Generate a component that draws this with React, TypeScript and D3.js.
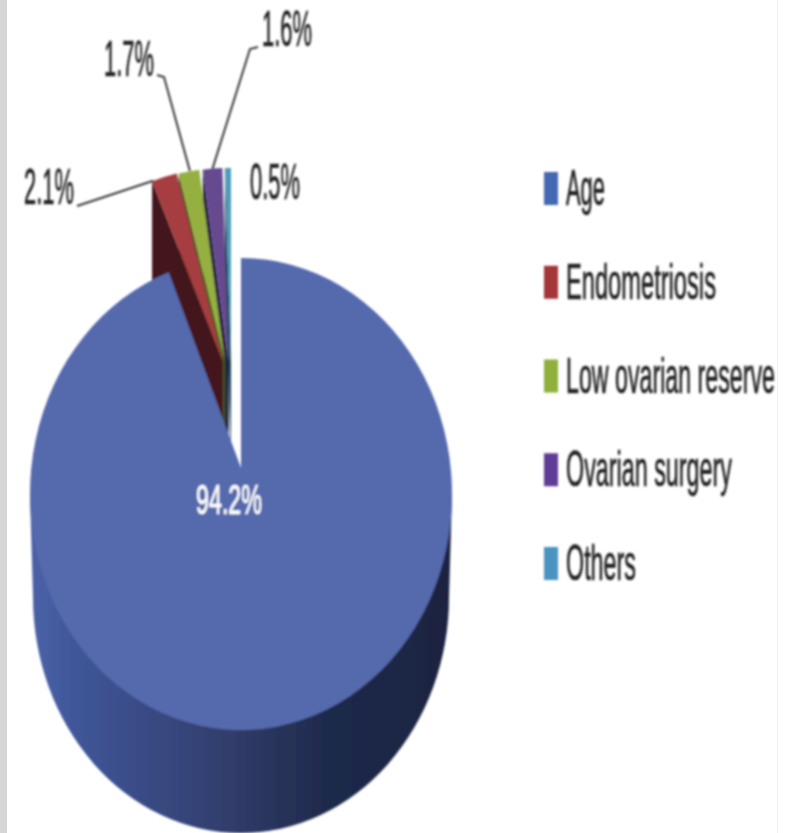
import * as d3 from "d3";

// ---- data ----
const CATEGORIES = ["Age", "Endometriosis", "Low ovarian reserve", "Ovarian surgery", "Others"];
const VALUES = [94.2, 2.1, 1.7, 1.6, 0.5];
const FACE_COLORS = ["#5569ad", "#a63c3f", "#95b03f", "#66488f", "#4f9cb9"];
const WALL_COLORS = ["#2f3b68", "#43161b", "#41571c", "#211a40", "#1d4658"];
const LEGEND_COLORS = ["#4468b2", "#a43538", "#8fb03a", "#5f3d97", "#4b93c0"];
const LEGEND_WIDTHS = [39, 150, 209, 166, 70];

const WIDTH = 792;
const HEIGHT = 833;
const FONT_FAMILY = "'Liberation Sans Narrow', 'Liberation Sans', sans-serif";

// main disc
const MAIN = { cx: 241, cy: 494, rx: 211, ry: 236, apexY: 468 };
const BASE = { cy: 597, rx: 208, ry: 236 };
// perspective pushes the cut edge a little past the plain pie angle
const END_NUDGE = (1.2 * Math.PI) / 180;
// the exploded small slices sit on their own, flatter centres
const EXPLODED_CX = [223, 225, 228.5, 231];
const EXPLODED = { cy: 362, rx: 196, ry: 194, depth: 100 };

type Ell = { cx: number; cy: number; rx: number; ry: number };

const pt = (e: Ell, a: number): [number, number] => [
  e.cx + Math.sin(a) * e.rx,
  e.cy - Math.cos(a) * e.ry,
];

const pie = d3
  .pie<number>()
  .sort(null)
  .startAngle(0)
  .endAngle(Math.PI * 2);

const slices = pie(VALUES);
const explodedEll = (i: number): Ell => ({ ...EXPLODED, cx: EXPLODED_CX[i] });

function faceAt(e: Ell, a0: number, a1: number) {
  const [x0, y0] = pt(e, a0);
  const [x1, y1] = pt(e, a1);
  return `M${e.cx},${e.cy}L${x0},${y0}A${e.rx},${e.ry} 0 0 1 ${x1},${y1}Z`;
}

// label placement per slice: text box, baseline and leader elbow
const LABELS = ["94.2%", "2.1%", "1.7%", "1.6%", "0.5%"];
const LABEL_POS = [
  { x: 196, y: 514, w: 66 },
  { x: 24, y: 204, w: 50 },
  { x: 104, y: 76, w: 50 },
  { x: 262, y: 46, w: 50 },
  { x: 250, y: 199, w: 50 },
];
const LEADERS: ([number, number][] | null)[] = [
  null,
  [[77, 206]],
  [[157, 75], [164, 77]],
  [[258, 47], [250, 49]],
  null,
];
const LEADER_ANGLE = [0, 0.05, 0.55, 0.5, 0];

// squeeze text horizontally to the width it has in the picture
const ctx = document.createElement("canvas").getContext("2d")!;
function squeeze(text: string, size: number, width: number) {
  ctx.font = `${size}px ${FONT_FAMILY}`;
  return width / ctx.measureText(text).width;
}

export default function App() {
  const blue = slices[0];
  const [bx0, by0] = pt(MAIN, blue.startAngle);
  const [bx1, by1] = pt(MAIN, blue.endAngle + END_NUDGE);

  const legendY = d3
    .scalePoint<string>()
    .domain(CATEGORIES)
    .range([205, 580]);

  const wallShade = d3
    .scaleLinear<string>()
    .domain([0, 0.12, 0.45, 0.7, 1])
    .range(["#4a62a8", "#3f5597", "#323f6e", "#1f2a4b", "#1a2340"]);

  return (
    <svg
      width={WIDTH}
      height={HEIGHT}
      style={{ position: "absolute", left: 0, top: 0, background: "#fff" }}
    >
      <defs>
        <linearGradient id="wall" gradientUnits="objectBoundingBox" x1="0" x2="1" y1="0" y2="0">
          {[0, 0.12, 0.3, 0.45, 0.6, 0.7, 0.85, 1].map((t) => (
            <stop key={t} offset={t} stopColor={wallShade(t)} />
          ))}
        </linearGradient>
        <filter id="soft" x="-5%" y="-5%" width="110%" height="110%">
          <feGaussianBlur stdDeviation="0.8" />
        </filter>
      </defs>

      <rect x={0} y={0} width={7} height={HEIGHT} fill="#d6d6d6" />
      <rect x={777} y={0} width={1} height={HEIGHT} fill="#efefef" />

      <g filter="url(#soft)">
        {/* side wall of the main disc */}
        <path
          d={`M${MAIN.cx - MAIN.rx},${MAIN.cy}L${MAIN.cx - BASE.rx},${BASE.cy}A${BASE.rx},${BASE.ry} 0 0 0 ${MAIN.cx + BASE.rx},${BASE.cy}L${MAIN.cx + MAIN.rx},${MAIN.cy}Z`}
          fill="url(#wall)"
        />

        {/* exploded slices: walls right to left, then the faces on top */}
        {slices
          .slice(1)
          .map((s, i) => {
            const e = explodedEll(i);
            const [x0, y0] = pt(e, s.startAngle);
            return (
              <path
                key={i}
                d={`M${e.cx},${e.cy}L${x0},${y0}L${x0},${y0 + EXPLODED.depth}L${e.cx},${e.cy + EXPLODED.depth}Z`}
                fill={WALL_COLORS[i + 1]}
              />
            );
          })
          .reverse()}
        {slices.slice(1).map((s, i) => (
          <path
            key={i}
            d={faceAt(explodedEll(i), s.startAngle, s.endAngle)}
            fill={FACE_COLORS[i + 1]}
          />
        ))}

        {/* top face of the main slice */}
        <path
          d={`M${MAIN.cx},${MAIN.apexY}L${bx0},${by0}A${MAIN.rx},${MAIN.ry} 0 1 1 ${bx1},${by1}Z`}
          fill={FACE_COLORS[0]}
        />

        {/* leaders */}
        {slices.map((s, i) => {
          const pts = LEADERS[i];
          if (!pts) return null;
          const a = s.startAngle + (s.endAngle - s.startAngle) * LEADER_ANGLE[i];
          const line = d3.line()([...pts, pt(explodedEll(i - 1), a)]) ?? "";
          return <path key={i} d={line} fill="none" stroke="#3a3a3a" strokeWidth={2} />;
        })}

        {/* value labels */}
        {LABELS.map((t, i) => {
          const size = i === 0 ? 42 : 50;
          const sx = squeeze(t, size, LABEL_POS[i].w);
          return (
            <text
              key={t}
              transform={`translate(${LABEL_POS[i].x},${LABEL_POS[i].y}) scale(${sx},1)`}
              fontFamily={FONT_FAMILY}
              fontSize={size}
              fill={i === 0 ? "#fff" : "#222"}
              stroke={i === 0 ? "#fff" : "#222"}
              strokeWidth={0.7}
            >
              {t}
            </text>
          );
        })}

        {/* legend */}
        {CATEGORIES.map((c, i) => {
          const y = legendY(c) ?? 0;
          const sx = squeeze(c, 50, LEGEND_WIDTHS[i]);
          return (
            <g key={c}>
              <rect x={544} y={y - 33} width={14} height={33} fill={LEGEND_COLORS[i]} />
              <text
                transform={`translate(566,${y}) scale(${sx},1)`}
                fontFamily={FONT_FAMILY}
                fontSize={50}
                fill="#222"
                stroke="#222"
                strokeWidth={0.7}
              >
                {c}
              </text>
            </g>
          );
        })}
      </g>
    </svg>
  );
}
